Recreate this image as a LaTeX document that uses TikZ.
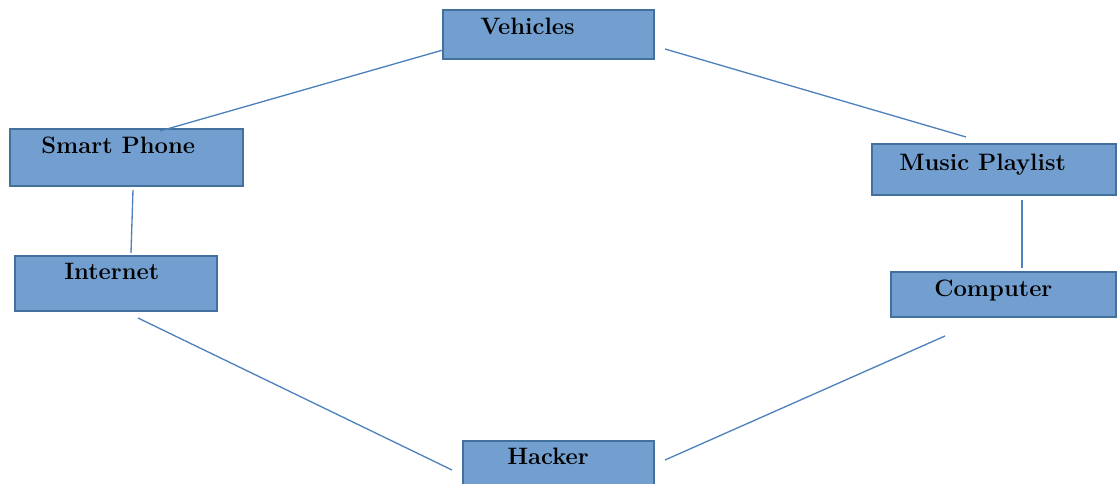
\documentclass[tikz,border=0pt]{standalone}
\usepackage{tikz}
\usetikzlibrary{arrows,shapes}
\definecolor{boxfill}{RGB}{114,159,207}
\definecolor{boxline}{RGB}{65,113,156}
\definecolor{linkblue}{RGB}{79,129,189}
\tikzstyle{box}=[rectangle,draw=boxline,fill=boxfill,line width=0.9pt,inner sep=0pt]
\tikzstyle{caption}=[anchor=base west,inner sep=0pt,font=\fontsize{17.8}{20}\selectfont\bfseries]
\tikzstyle{wire} = [draw=linkblue,line width=1pt,-]

\begin{document}
\begin{tikzpicture}[x=0.75pt,y=-0.75pt]
    \useasboundingbox (0,0) rectangle (1118,484);
    % First we draw the boxes
    \foreach \pos/\name/\w/\h in {{(548.5,34.5)/veh/211/49}, {(126.5,157.5)/phone/233/57},
        {(116,283.5)/net/202/55}, {(994,169.5)/music/244/51},
        {(1003.5,294.5)/comp/225/45}, {(558.5,466)/hack/191/50}}
        \node[box,minimum width=\w*0.75pt,minimum height=\h*0.75pt] (\name) at \pos {};
    % Then the words inside them
    \node[caption] (veh-t) at (480,35) {Vehicles};
    \node[caption] (phone-t) at (41,154) {Smart Phone};
    \node[caption] (net-t) at (64,280) {Internet};
    \node[caption] (music-t) at (899,171) {Music Playlist};
    \node[caption] (comp-t) at (934,297) {Computer};
    \node[caption] (hack-t) at (507,465) {Hacker};
    % Ends of the links, just off the boxes
    \coordinate (veh-a) at (443,50);
    \coordinate (phone-a) at (160,131);
    \coordinate (veh-b) at (665,49);
    \coordinate (music-a) at (966,137);
    \coordinate (phone-b) at (133,190);
    \coordinate (net-a) at (131,253);
    \coordinate (music-b) at (1022,200);
    \coordinate (comp-a) at (1022,268);
    \coordinate (net-b) at (138,318);
    \coordinate (hack-a) at (452,470);
    \coordinate (comp-b) at (945,336);
    \coordinate (hack-b) at (665,460);
    % Connect the boxes
    \path[wire] (veh-a) -- (phone-a);
    \path[wire] (veh-b) -- (music-a);
    \path[wire] (phone-b) -- (net-a);
    \path[wire] (music-b) -- (comp-a);
    \path[wire] (net-b) -- (hack-a);
    \path[wire] (comp-b) -- (hack-b);
\end{tikzpicture}
\end{document}
